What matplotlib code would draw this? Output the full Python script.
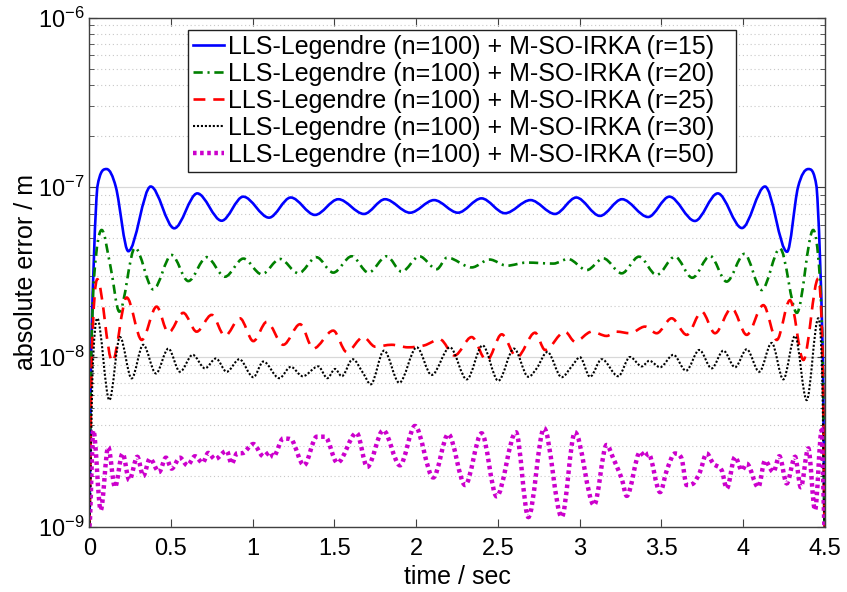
import matplotlib
matplotlib.use("Agg")
import numpy as np
from matplotlib import pyplot as plt
from matplotlib.path import Path
from matplotlib.patches import PathPatch
from matplotlib.ticker import FuncFormatter, LogLocator, NullFormatter

plt.rcParams['font.family'] = ['Liberation Sans', 'DejaVu Sans']
plt.rcParams['mathtext.fontset'] = 'custom'
plt.rcParams['mathtext.rm'] = 'Liberation Sans'

# (time [s], absolute error [m]) (extrema)
r15 = [(0, 1e-9), (0.011, 1e-8), (0.049, 1e-7), (0.106, 1.28e-7), (0.163, 1e-7),
       (0.239, 4.2e-8), (0.376, 1.01e-7), (0.52, 5.73e-8), (0.661, 9.2e-8), (0.81, 6.35e-8),
       (0.942, 8.8e-8), (1.10, 6.62e-8), (1.233, 8.7e-8), (1.381, 6.87e-8), (1.524, 8.5e-8),
       (1.681, 6.96e-8), (1.81, 8.5e-8), (1.963, 7.08e-8), (2.11, 8.4e-8), (2.256, 7.08e-8),
       (2.40, 8.6e-8), (2.544, 7.03e-8), (2.70, 8.4e-8), (2.85, 6.96e-8), (2.98, 8.7e-8),
       (3.125, 6.78e-8), (3.26, 8.5e-8), (3.42, 6.68e-8), (3.55, 8.8e-8), (3.706, 6.33e-8),
       (3.846, 9.2e-8), (3.994, 5.75e-8), (4.135, 1.01e-7), (4.27, 4.17e-8), (4.337, 1e-7),
       (4.40, 1.28e-7), (4.451, 1e-7), (4.489, 1e-8), (4.5, 1e-9)]

r20 = [(0, 1e-9), (0.01, 8e-9), (0.03, 3e-8), (0.076, 5.6e-8), (0.13, 3.4e-8),
       (0.184, 1.85e-8), (0.28, 4.4e-8), (0.392, 2.5e-8), (0.504, 3.99e-8), (0.606, 2.8e-8),
       (0.718, 3.87e-8), (0.83, 2.97e-8), (0.943, 3.8e-8), (1.055, 3.07e-8), (1.167, 3.78e-8),
       (1.28, 3.11e-8), (1.39, 3.87e-8), (1.493, 3.14e-8), (1.606, 3.92e-8), (1.708, 3.14e-8),
       (1.82, 3.92e-8), (1.912, 3.18e-8), (2.02, 3.92e-8), (2.126, 3.29e-8), (2.19, 3.85e-8),
       (2.34, 3.37e-8), (2.45, 3.75e-8), (2.555, 3.45e-8), (2.677, 3.6e-8), (2.84, 3.55e-8),
       (2.93, 3.78e-8), (3.044, 3.25e-8), (3.146, 3.81e-8), (3.258, 3.11e-8), (3.364, 3.9e-8),
       (3.472, 3.04e-8), (3.584, 3.9e-8), (3.69, 2.93e-8), (3.799, 3.94e-8), (3.9, 2.78e-8),
       (4.009, 4.05e-8), (4.115, 2.48e-8), (4.227, 4.36e-8), (4.33, 1.82e-8), (4.43, 5.6e-8),
       (4.47, 3e-8), (4.49, 8e-9), (4.5, 1e-9)]

r25 = [(0, 1e-9), (0.015, 1e-8), (0.049, 2.87e-8), (0.141, 9.4e-9), (0.229, 2.24e-8),
       (0.321, 1.26e-8), (0.412, 1.98e-8), (0.484, 1.39e-8), (0.575, 1.82e-8), (0.657, 1.41e-8),
       (0.749, 1.77e-8), (0.83, 1.33e-8), (0.922, 1.69e-8), (1.004, 1.24e-8), (1.086, 1.61e-8),
       (1.187, 1.18e-8), (1.29, 1.56e-8), (1.371, 1.12e-8), (1.493, 1.43e-8), (1.575, 1.07e-8),
       (1.677, 1.31e-8), (1.75, 1.15e-8), (1.85, 1.18e-8), (1.95, 1.14e-8), (2.05, 1.17e-8),
       (2.146, 1.27e-8), (2.235, 1.02e-8), (2.34, 1.31e-8), (2.432, 9.5e-9), (2.524, 1.36e-8),
       (2.616, 9.96e-9), (2.728, 1.39e-8), (2.789, 1.1e-8), (2.911, 1.41e-8), (2.972, 1.23e-8),
       (3.075, 1.41e-8), (3.166, 1.33e-8), (3.227, 1.41e-8), (3.309, 1.38e-8), (3.401, 1.51e-8),
       (3.472, 1.38e-8), (3.564, 1.69e-8), (3.656, 1.35e-8), (3.748, 1.85e-8), (3.829, 1.38e-8),
       (3.931, 1.94e-8), (4.023, 1.35e-8), (4.125, 2.02e-8), (4.207, 1.26e-8), (4.288, 2.16e-8),
       (4.37, 9.6e-9), (4.461, 2.9e-8), (4.488, 1e-8), (4.5, 1e-9)]

r30 = [(0, 1e-9), (0.02, 8e-9), (0.049, 1.69e-8), (0.123, 5.57e-9), (0.188, 1.31e-8),
       (0.259, 7.48e-9), (0.33, 1.18e-8), (0.408, 8e-9), (0.484, 1.12e-8), (0.555, 8.18e-9),
       (0.633, 1.03e-8), (0.708, 8.57e-9), (0.775, 9.8e-9), (0.841, 8.18e-9), (0.918, 9.7e-9),
       (1.004, 7.6e-9), (1.065, 9.4e-9), (1.163, 7.5e-9), (1.233, 8.75e-9), (1.306, 7.7e-9),
       (1.401, 8.8e-9), (1.457, 7.5e-9), (1.504, 8.5e-9), (1.545, 7.7e-9), (1.612, 9.7e-9),
       (1.677, 8e-9), (1.722, 6.9e-9), (1.804, 1.09e-8), (1.897, 7.05e-9), (2.004, 1.14e-8),
       (2.095, 7.83e-9), (2.207, 1.14e-8), (2.31, 7.38e-9), (2.407, 1.17e-8), (2.503, 7.24e-9),
       (2.599, 1.12e-8), (2.687, 7.64e-9), (2.738, 8.57e-9), (2.803, 1.07e-8), (2.891, 7.6e-9),
       (2.952, 8.8e-9), (3.003, 9.96e-9), (3.064, 7.64e-9), (3.136, 9.7e-9), (3.237, 7.7e-9),
       (3.309, 1e-8), (3.381, 8.8e-9), (3.427, 9.5e-9), (3.493, 8.7e-9), (3.574, 1.03e-8),
       (3.652, 8.3e-9), (3.733, 1.1e-8), (3.809, 8.57e-9), (3.88, 1.09e-8), (3.952, 8.7e-9),
       (4.023, 1.11e-8), (4.1, 8.18e-9), (4.176, 1.21e-8), (4.247, 7.38e-9), (4.319, 1.33e-8),
       (4.39, 5.57e-9), (4.461, 1.69e-8), (4.485, 8e-9), (4.5, 1e-9)]

r50 = [(0, 1e-9), (0.025, 3.7e-9), (0.07, 1.25e-9), (0.116, 2.95e-9), (0.157, 1.71e-9),
       (0.204, 2.7e-9), (0.245, 1.88e-9), (0.294, 2.58e-9), (0.33, 1.99e-9), (0.371, 2.52e-9),
       (0.427, 2.1e-9), (0.469, 2.55e-9), (0.504, 2.2e-9), (0.555, 2.55e-9), (0.6, 2.3e-9),
       (0.647, 2.6e-9), (0.694, 2.38e-9), (0.728, 2.72e-9), (0.769, 2.5e-9), (0.841, 2.8e-9),
       (0.871, 2.35e-9), (0.902, 2.7e-9), (0.943, 2.72e-9), (1.004, 3.07e-9), (1.065, 2.6e-9),
       (1.106, 2.75e-9), (1.126, 2.58e-9), (1.187, 3.31e-9), (1.239, 3.26e-9), (1.314, 2.3e-9),
       (1.392, 3.39e-9), (1.443, 3.39e-9), (1.518, 2.38e-9), (1.636, 3.57e-9), (1.701, 2.25e-9),
       (1.799, 3.7e-9), (1.901, 2.3e-9), (1.993, 3.92e-9), (2.105, 1.95e-9), (2.197, 3.51e-9),
       (2.3, 1.76e-9), (2.401, 3.55e-9), (2.493, 1.51e-9), (2.611, 3.6e-9), (2.687, 1.14e-9),
       (2.783, 3.8e-9), (2.891, 1.14e-9), (2.972, 3.6e-9), (3.089, 1.34e-9), (3.166, 3.03e-9),
       (3.207, 2.52e-9), (3.258, 1.92e-9), (3.289, 1.52e-9), (3.371, 2.76e-9), (3.401, 2.58e-9),
       (3.421, 2.7e-9), (3.493, 1.6e-9), (3.534, 2.15e-9), (3.584, 2.7e-9), (3.625, 2.52e-9),
       (3.656, 1.76e-9), (3.697, 1.8e-9), (3.737, 2.1e-9), (3.778, 2.7e-9), (3.819, 2.35e-9),
       (3.87, 2.15e-9), (3.901, 1.68e-9), (3.952, 2.58e-9), (3.993, 2.15e-9), (4.023, 2.35e-9),
       (4.094, 1.71e-9), (4.135, 2.45e-9), (4.186, 2.1e-9), (4.223, 2.6e-9), (4.268, 1.8e-9),
       (4.319, 2.58e-9), (4.354, 1.71e-9), (4.4, 2.89e-9), (4.441, 1.25e-9), (4.482, 3.7e-9),
       (4.5, 1e-9)]

labels = ["LLS-Legendre (n=100) + M-SO-IRKA (r=%d)" % r for r in (15, 20, 25, 30, 50)]
x_ticks = [0, 0.5, 1, 1.5, 2, 2.5, 3, 3.5, 4, 4.5]


def smooth_path(data):
    # cubic Bezier through the read points (flat at extrema), drawn in log-y data coords
    t = np.array([p[0] for p in data])
    ly = np.log10([p[1] for p in data])
    n = len(t)
    m = np.zeros(n)
    for i in range(1, n - 1):
        if (ly[i] - ly[i - 1]) * (ly[i + 1] - ly[i]) > 0:
            m[i] = (ly[i + 1] - ly[i - 1]) / (t[i + 1] - t[i - 1])
    verts = [(t[0], 10 ** ly[0])]
    codes = [Path.MOVETO]
    for i in range(1, n):
        dt = (t[i] - t[i - 1]) / 3
        lo, hi = sorted((ly[i - 1], ly[i]))
        c1 = np.clip(ly[i - 1] + m[i - 1] * dt, lo, hi)
        c2 = np.clip(ly[i] - m[i] * dt, lo, hi)
        verts += [(t[i - 1] + dt, 10 ** c1), (t[i] - dt, 10 ** c2), (t[i], 10 ** ly[i])]
        codes += [Path.CURVE4] * 3
    return Path(verts, codes)


fig = plt.figure(figsize=(8.47, 5.92), dpi=100)
ax = fig.add_axes([0.1054, 0.1103, 0.8682, 0.8601])
ax.set_yscale('log')
ax.set_xlim(0, 4.5)
ax.set_ylim(1e-9, 1e-6)

styles = [
    dict(color='#0000ff', ls='-', lw=1.9),
    dict(color='#008000', ls=(0, (3.5, 1.8, 0.8, 1.8)), lw=1.9),
    dict(color='#ff0000', ls=(0, (4.5, 3)), lw=1.9),
    dict(color='#000000', ls=(0, (1, 0.9)), lw=1.5),
    dict(color='#cc00cc', ls=(0, (0.8, 0.8)), lw=3.2),
]
for data, lab, st in zip([r15, r20, r25, r30, r50], labels, styles):
    ax.add_patch(PathPatch(smooth_path(data), fill=False, edgecolor=st['color'],
                           linestyle=st['ls'], linewidth=st['lw'], capstyle='butt'))
    ax.plot([], [], color=st['color'], ls=st['ls'], lw=st['lw'], label=lab)

ax.set_xticks(x_ticks)
ax.xaxis.set_major_formatter(FuncFormatter(lambda v, p: '%g' % v))
ax.yaxis.set_minor_locator(LogLocator(base=10, subs=range(2, 10)))
ax.yaxis.set_minor_formatter(NullFormatter())
ax.tick_params(which='both', direction='in', top=True, right=True, labelsize=17, color='#404040')
ax.tick_params(which='major', length=6)
ax.tick_params(which='minor', length=3.5)
ax.tick_params(axis='x', pad=8)

ax.yaxis.grid(True, which='major', color='#d8d8d8', lw=0.9, ls='-')
ax.yaxis.grid(True, which='minor', color='#c8c8c8', lw=0.8, ls=(0, (1, 2.5)))
ax.set_axisbelow(True)
for s in ax.spines.values():
    s.set_color('#404040')
    s.set_linewidth(1.0)

ax.set_xlabel('time / sec', fontsize=18, labelpad=4)
ax.set_ylabel('absolute error / m', fontsize=18, labelpad=0)

leg = ax.legend(loc='upper left', bbox_to_anchor=(0.1342, 0.5, 0.7453, 0.4755), mode='expand',
                fontsize=18, handlelength=1.25, handletextpad=0.15, labelspacing=0.12,
                borderpad=0.2, borderaxespad=0, fancybox=False, framealpha=1)
leg.get_frame().set_edgecolor('#202020')
leg.get_frame().set_linewidth(1.0)

fig.savefig('out.png', dpi=100)
